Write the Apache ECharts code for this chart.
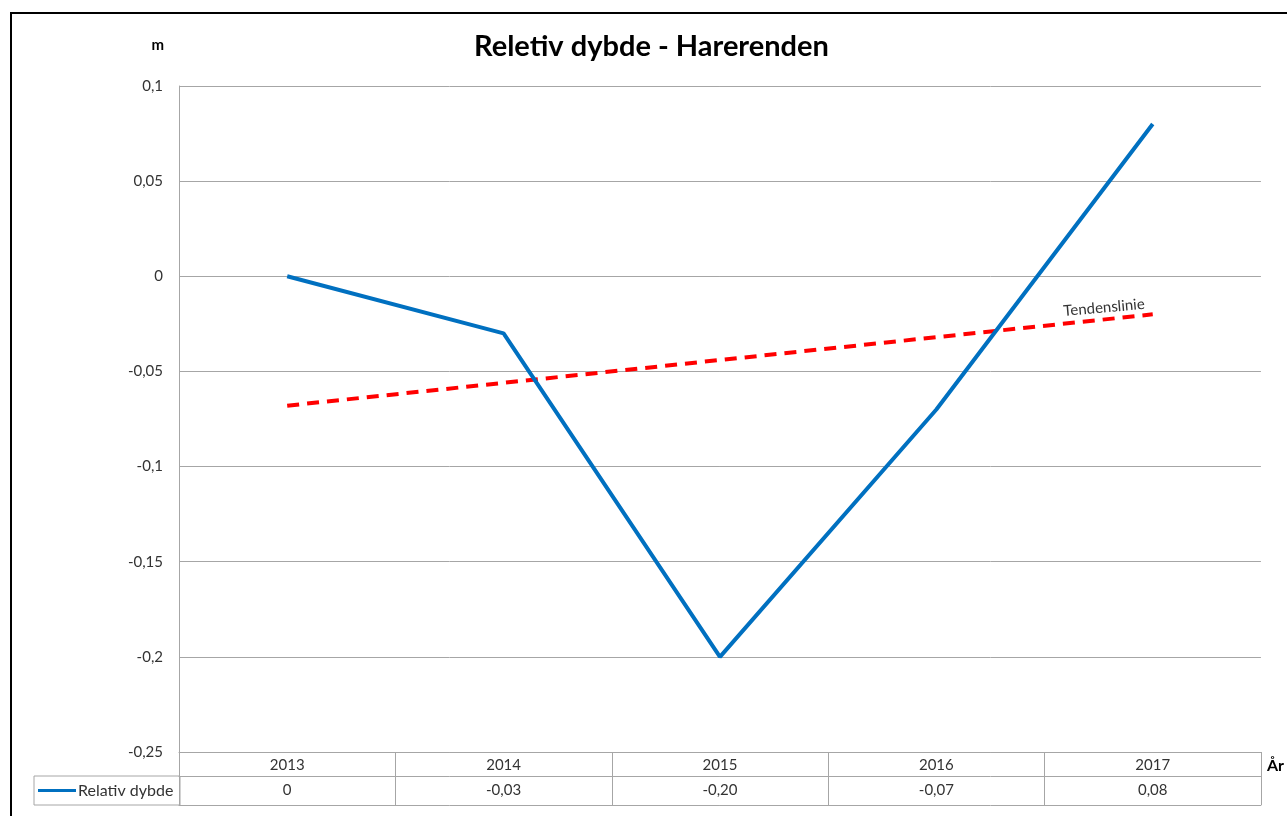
<!DOCTYPE html>
<html>
<head>
<meta charset="utf-8">
<script src="https://cdn.jsdelivr.net/npm/echarts@6/dist/echarts.min.js"></script>
<style>
html, body { margin: 0; padding: 0; background: #fff; }
#chart { width: 1287px; height: 816px; position: absolute; left: 0; top: 0; }
#frame { position: absolute; left: 10px; top: 12px; width: 1300px; height: 900px;
         border-left: 2px solid #000; border-top: 2px solid #000; pointer-events: none; }
</style>
</head>
<body>
<div id="chart"></div>
<div id="frame"></div>
<script>
var years = ['2013', '2014', '2015', '2016', '2017'];
var dybde = [0, -0.03, -0.20, -0.07, 0.08];
var trend = [-0.068, -0.056, -0.044, -0.032, -0.02];

var FONT = 'Lato, "Open Sans", sans-serif';
var GRID_COLOR = '#a6a6a6';
var TEXT_COLOR = '#333';

function fmtTick(v) {
    return String(Math.round(v * 100) / 100).replace('.', ',');
}
function fmtCell(v) {
    return v === 0 ? '0' : v.toFixed(2).replace('.', ',');
}

var myChart = echarts.init(document.getElementById('chart'));
var option = {
    animation: false,
    textStyle: { fontFamily: FONT },
    title: {
        text: 'Reletiv dybde - Harerenden',
        left: 469,
        top: 27,
        textStyle: { fontSize: 29, fontWeight: 'bold', color: '#000', fontFamily: FONT }
    },
    legend: {
        data: ['Relativ dybde'],
        icon: 'rect',
        left: 34,
        top: 776,
        padding: [6, 3, 6, 4],
        itemWidth: 38,
        itemHeight: 3,
        itemGap: 0,
        borderColor: GRID_COLOR,
        borderWidth: 1,
        selectedMode: false,
        textStyle: { fontSize: 16, lineHeight: 17, color: TEXT_COLOR, padding: [0, 0, 0, -3], width: 99 }
    },
    grid: { left: 179, right: 23, top: 86, bottom: 64 },
    xAxis: [
        {
            type: 'category',
            data: years,
            name: 'År',
            nameLocation: 'end',
            nameGap: 6,
            nameTextStyle: { fontSize: 16, fontWeight: 'bold', color: '#000', verticalAlign: 'top', padding: [6, 0, 0, 0] },
            axisLine: { onZero: false, lineStyle: { color: GRID_COLOR } },
            axisTick: { show: true, length: 53, lineStyle: { color: GRID_COLOR } },
            axisLabel: { fontSize: 15, color: TEXT_COLOR, margin: 6 }
        },
        {
            type: 'category',
            data: years,
            position: 'bottom',
            offset: 24,
            axisLine: { onZero: false, lineStyle: { color: GRID_COLOR } },
            axisTick: { show: false },
            axisLabel: {
                fontSize: 15, color: TEXT_COLOR, margin: 7,
                formatter: function (val, idx) { return fmtCell(dybde[idx]); }
            }
        },
        {
            type: 'category',
            data: years,
            position: 'bottom',
            offset: 53,
            axisLine: { onZero: false, lineStyle: { color: GRID_COLOR } },
            axisTick: { show: false },
            axisLabel: { show: false }
        }
    ],
    yAxis: {
        type: 'value',
        min: -0.25,
        max: 0.1,
        interval: 0.05,
        name: 'm',
        nameLocation: 'end',
        nameGap: 33,
        nameTextStyle: { fontSize: 15, fontWeight: 'bold', color: '#000', align: 'right', padding: [0, 15, 0, 0] },
        axisLine: { show: true, lineStyle: { color: GRID_COLOR } },
        axisTick: { show: false },
        splitLine: { lineStyle: { color: GRID_COLOR } },
        axisLabel: { fontSize: 15, color: TEXT_COLOR, margin: 16, formatter: fmtTick }
    },
    series: [
        {
            name: 'Relativ dybde',
            type: 'line',
            data: dybde,
            symbol: 'none',
            lineStyle: { color: '#0070C0', width: 4 },
            itemStyle: { color: '#0070C0' },
            z: 3
        },
        {
            name: 'Tendenslinie',
            type: 'line',
            symbol: 'circle',
            symbolSize: 1,
            showSymbol: true,
            itemStyle: { color: 'rgba(0,0,0,0)' },
            data: trend.map(function (v, i) {
                if (i !== trend.length - 1) return v;
                return {
                    value: v,
                    label: {
                        show: true,
                        formatter: 'Tendenslinie',
                        position: 'top',
                        distance: 0,
                        offset: [-48, -3],
                        rotate: 5,
                        fontSize: 15,
                        color: TEXT_COLOR
                    }
                };
            }),
            lineStyle: { color: '#FF0000', width: 4, type: [12, 8] },
            z: 2
        }
    ]
};
myChart.setOption(option);
</script>
</body>
</html>
